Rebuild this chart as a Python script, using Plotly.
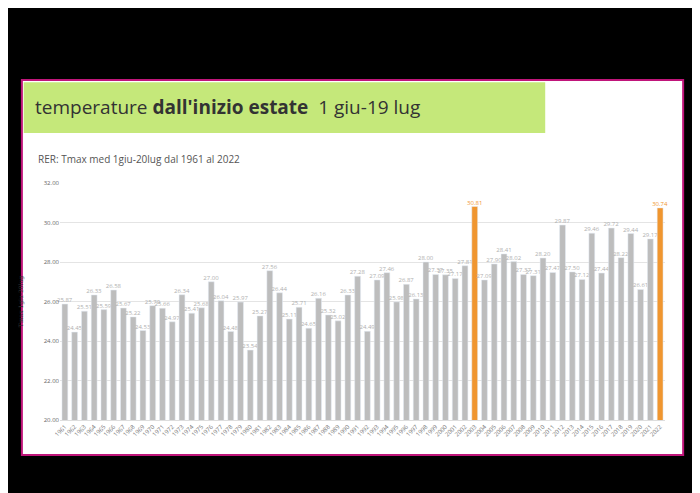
import plotly.graph_objects as go

years = list(range(1961, 2023))
tmax = [25.87, 24.45, 25.51, 26.33, 25.59, 26.58, 25.67, 25.22, 24.53, 25.79,
        25.66, 24.97, 26.34, 25.41, 25.68, 27.00, 26.04, 24.48, 25.97, 23.54,
        25.27, 27.56, 26.44, 25.11, 25.71, 24.65, 26.16, 25.32, 25.02, 26.33,
        27.28, 24.49, 27.09, 27.46, 25.98, 26.87, 26.13, 28.00, 27.37, 27.35,
        27.17, 27.81, 30.81, 27.09, 27.90, 28.41, 28.02, 27.37, 27.31, 28.20,
        27.47, 29.87, 27.50, 27.12, 29.46, 27.44, 29.72, 28.22, 29.44, 26.61,
        29.17, 30.74]
highlight = [2003, 2022]

colors = ["#f0962f" if y in highlight else "#bdbdbd" for y in years]
textcol = ["#f0962f" if y in highlight else "#b0b0b0" for y in years]

fig = go.Figure(go.Bar(
    x=[str(y) for y in years], y=tmax, marker_color=colors, width=0.6,
    text=[f"{v:.2f}" for v in tmax], textposition="outside", constraintext="none",
    textfont=dict(size=6, color=textcol), cliponaxis=False,
))

shapes = [
    dict(type="rect", xref="paper", yref="paper", x0=-0.063, x1=1.03, y0=-0.148, y1=1.435,
         fillcolor="white", line=dict(color="#c0157a", width=2), layer="below"),
    dict(type="rect", xref="paper", yref="paper", x0=-0.06, x1=0.802, y0=1.211, y1=1.425,
         fillcolor="#c5e87a", line=dict(width=0), layer="below"),
]

# page body has an 8px margin, so the figure is shrunk and margins shifted
fig.update_layout(
    width=692, height=485,
    paper_bgcolor="black", plot_bgcolor="white",
    margin=dict(l=52, r=35, t=175, b=73),
    showlegend=False, shapes=shapes,
    font=dict(family="Open Sans", color="#666"),
    annotations=[
        dict(xref="paper", yref="paper", x=-0.045, y=1.32, xanchor="left", yanchor="middle",
             showarrow=False,
             text="temperature <b>dall'inizio estate</b>  1 giu-19 lug",
             font=dict(size=19, color="#333")),
        dict(xref="paper", yref="paper", x=-0.04, y=1.10, xanchor="left", yanchor="middle",
             showarrow=False,
             text="RER: Tmax med 1giu-20lug dal 1961 al 2022", font=dict(size=10, color="#555")),
        dict(xref="paper", yref="paper", x=-0.075, y=0.5, showarrow=False, textangle=-90,
             text="Tmax 1giu-20lug", font=dict(size=6, color="#333", family="DejaVu Serif")),
    ],
    xaxis=dict(tickangle=-45, tickfont=dict(size=6, color="#777"), showgrid=False,
               linecolor="#ddd"),
    yaxis=dict(range=[20, 32], dtick=2, tickformat=".2f", tickfont=dict(size=6, color="#666"),
               gridcolor="#e4e4e4", zeroline=False),
)

fig.write_html("out.html")
